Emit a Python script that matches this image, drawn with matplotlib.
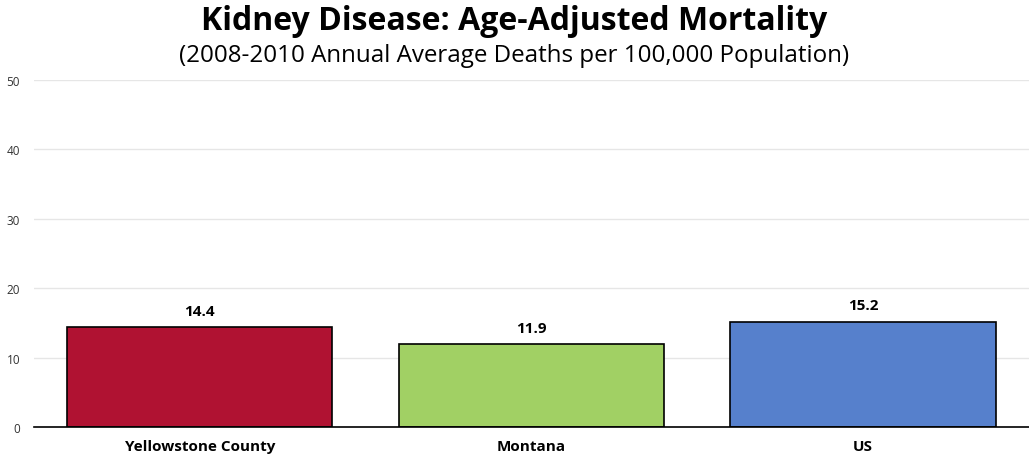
import matplotlib
matplotlib.use('Agg')
import matplotlib.pyplot as plt

# 肾病年龄调整死亡率
regions = ['Yellowstone County', 'Montana', 'US']
rates = [14.4, 11.9, 15.2]
colors = ['#B01232', '#A1D064', '#5680CC']
yticks = [0, 10, 20, 30, 40, 50]

plt.rcParams['font.family'] = ['Open Sans', 'DejaVu Sans']

fig = plt.figure(figsize=(10.29, 4.64), dpi=100)
ax = fig.add_axes([0.033, 0.0776, 0.967, 0.7478])

x = range(len(regions))
bars = ax.bar(x, rates, width=0.8, color=colors, edgecolor='black', linewidth=1.2, zorder=3)
for b, v in zip(bars, rates):
    ax.text(b.get_x() + b.get_width() / 2, v + 1.3, f'{v:.1f}', ha='center', va='bottom',
            fontsize=11, fontweight='bold')

ax.set_xlim(-0.5, 2.5)
ax.set_ylim(0, 50)
ax.set_yticks(yticks)
ax.set_xticks(list(x))
ax.set_xticklabels(regions, fontsize=11, fontweight='bold')
ax.tick_params(axis='y', length=0, labelsize=8.5, pad=10, colors='#333333')
ax.tick_params(axis='x', length=0, pad=9)
ax.yaxis.grid(True, color='#E6E6E6', linewidth=1, zorder=0)
for s in ['top', 'right', 'left']:
    ax.spines[s].set_visible(False)
ax.spines['bottom'].set_linewidth(1.2)
ax.spines['bottom'].set_zorder(4)

fig.text(0.5, 0.953, 'Kidney Disease: Age-Adjusted Mortality', ha='center', va='center',
         fontsize=23, fontweight='bold')
fig.text(0.5, 0.879, '(2008-2010 Annual Average Deaths per 100,000 Population)', ha='center',
         va='center', fontsize=17.4)

fig.savefig('out.png', dpi=100)
